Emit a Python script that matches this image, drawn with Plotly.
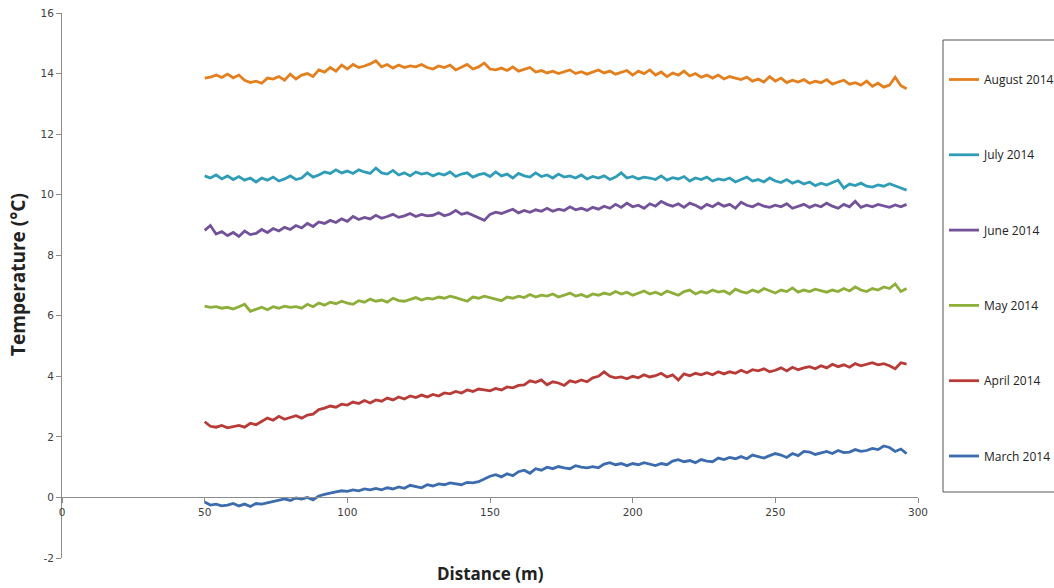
import plotly.graph_objects as go

# Distance along transect (m)
distance = list(range(50, 298, 2))

august_2014 = [
    13.85, 13.88, 13.95, 13.87, 13.98, 13.86, 13.95, 13.78, 13.70, 13.75,
    13.68, 13.85, 13.82, 13.90, 13.78, 13.98, 13.82, 13.95, 14.00, 13.90,
    14.12, 14.05, 14.20, 14.08, 14.28, 14.15, 14.30, 14.20, 14.25, 14.32,
    14.42, 14.22, 14.30, 14.18, 14.28, 14.20, 14.25, 14.22, 14.30, 14.20,
    14.15, 14.25, 14.20, 14.28, 14.12, 14.22, 14.30, 14.15, 14.22, 14.35,
    14.15, 14.12, 14.18, 14.10, 14.22, 14.08, 14.15, 14.20, 14.05, 14.10,
    14.02, 14.08, 14.00, 14.05, 14.12, 14.00, 14.06, 13.98, 14.05, 14.12,
    14.02, 14.08, 13.98, 14.05, 14.10, 13.95, 14.08, 14.00, 14.12, 13.95,
    14.05, 13.90, 14.02, 13.95, 14.08, 13.92, 14.00, 13.88, 13.95, 13.85,
    13.95, 13.82, 13.90, 13.85, 13.80, 13.88, 13.75, 13.82, 13.72, 13.90,
    13.75, 13.85, 13.70, 13.78, 13.72, 13.80, 13.68, 13.75, 13.70, 13.80,
    13.65, 13.72, 13.78, 13.65, 13.70, 13.62, 13.75, 13.58, 13.68, 13.55,
    13.62, 13.88, 13.60, 13.50,
]

july_2014 = [
    10.62, 10.55, 10.65, 10.52, 10.62, 10.50, 10.60, 10.48, 10.55, 10.42,
    10.55, 10.48, 10.58, 10.45, 10.52, 10.62, 10.50, 10.55, 10.72, 10.58,
    10.65, 10.75, 10.70, 10.82, 10.72, 10.78, 10.70, 10.82, 10.75, 10.70,
    10.88, 10.72, 10.68, 10.80, 10.65, 10.72, 10.62, 10.75, 10.68, 10.72,
    10.62, 10.70, 10.65, 10.75, 10.60, 10.68, 10.72, 10.58, 10.66, 10.70,
    10.60, 10.75, 10.62, 10.68, 10.55, 10.70, 10.62, 10.58, 10.72, 10.60,
    10.65, 10.55, 10.68, 10.58, 10.62, 10.55, 10.65, 10.52, 10.60, 10.55,
    10.62, 10.50, 10.58, 10.72, 10.55, 10.60, 10.52, 10.58, 10.55, 10.50,
    10.62, 10.48, 10.56, 10.52, 10.60, 10.45, 10.55, 10.50, 10.58, 10.45,
    10.52, 10.48, 10.55, 10.42, 10.50, 10.58, 10.45, 10.50, 10.42, 10.55,
    10.45, 10.40, 10.50, 10.38, 10.45, 10.35, 10.42, 10.30, 10.38, 10.32,
    10.40, 10.48, 10.22, 10.35, 10.30, 10.38, 10.28, 10.25, 10.32, 10.28,
    10.36, 10.30, 10.22, 10.15,
]

june_2014 = [
    8.82, 8.98, 8.70, 8.78, 8.65, 8.75, 8.62, 8.80, 8.68, 8.72,
    8.85, 8.75, 8.88, 8.80, 8.92, 8.85, 8.98, 8.90, 9.05, 8.95,
    9.10, 9.05, 9.15, 9.08, 9.20, 9.12, 9.28, 9.18, 9.25, 9.20,
    9.32, 9.22, 9.28, 9.35, 9.25, 9.30, 9.38, 9.28, 9.35, 9.30,
    9.32, 9.40, 9.30, 9.36, 9.48, 9.35, 9.40, 9.32, 9.25, 9.15,
    9.35, 9.42, 9.38, 9.45, 9.52, 9.40, 9.48, 9.42, 9.50, 9.45,
    9.55, 9.45, 9.52, 9.48, 9.60, 9.50, 9.55, 9.48, 9.58, 9.52,
    9.62, 9.55, 9.68, 9.58, 9.72, 9.60, 9.65, 9.55, 9.70, 9.62,
    9.78, 9.68, 9.62, 9.70, 9.58, 9.72, 9.65, 9.55, 9.68, 9.60,
    9.72, 9.62, 9.68, 9.55, 9.75, 9.65, 9.60, 9.70, 9.62, 9.58,
    9.65, 9.60, 9.70, 9.55, 9.62, 9.68, 9.58, 9.66, 9.60, 9.72,
    9.62, 9.55, 9.68, 9.60, 9.78, 9.58, 9.65, 9.60, 9.68, 9.62,
    9.58, 9.66, 9.60, 9.68,
]

may_2014 = [
    6.32, 6.28, 6.30, 6.25, 6.28, 6.22, 6.30, 6.38, 6.15, 6.22,
    6.28, 6.20, 6.30, 6.25, 6.32, 6.28, 6.30, 6.25, 6.38, 6.30,
    6.42, 6.35, 6.45, 6.40, 6.48, 6.42, 6.38, 6.50, 6.45, 6.55,
    6.48, 6.52, 6.45, 6.58, 6.50, 6.48, 6.55, 6.60, 6.52, 6.58,
    6.55, 6.62, 6.58, 6.65, 6.60, 6.55, 6.48, 6.62, 6.58, 6.65,
    6.60, 6.55, 6.50, 6.62, 6.58, 6.65, 6.60, 6.70, 6.62, 6.68,
    6.65, 6.72, 6.62, 6.68, 6.75, 6.65, 6.70, 6.62, 6.72, 6.68,
    6.75, 6.70, 6.80, 6.72, 6.78, 6.68, 6.75, 6.82, 6.72, 6.78,
    6.70, 6.82, 6.75, 6.68, 6.80, 6.85, 6.72, 6.80, 6.75, 6.85,
    6.78, 6.82, 6.72, 6.88, 6.80, 6.75, 6.85, 6.78, 6.90, 6.82,
    6.75, 6.85, 6.80, 6.92, 6.78, 6.85, 6.80, 6.88, 6.82, 6.78,
    6.85, 6.80, 6.90, 6.82, 6.95, 6.85, 6.80, 6.90, 6.85, 6.95,
    6.90, 7.05, 6.80, 6.90,
]

april_2014 = [
    2.50, 2.35, 2.32, 2.38, 2.30, 2.35, 2.38, 2.32, 2.45, 2.40,
    2.50, 2.62, 2.55, 2.68, 2.58, 2.65, 2.70, 2.62, 2.72, 2.75,
    2.90, 2.95, 3.02, 2.98, 3.08, 3.05, 3.15, 3.10, 3.20, 3.12,
    3.22, 3.18, 3.28, 3.22, 3.32, 3.25, 3.35, 3.30, 3.38, 3.32,
    3.40, 3.35, 3.45, 3.42, 3.50, 3.45, 3.55, 3.50, 3.58, 3.55,
    3.52, 3.60, 3.55, 3.65, 3.62, 3.70, 3.72, 3.85, 3.80, 3.88,
    3.72, 3.82, 3.78, 3.70, 3.85, 3.80, 3.88, 3.82, 3.95, 4.00,
    4.15, 4.00, 3.95, 3.98, 3.92, 4.00, 3.95, 4.05, 3.98, 4.02,
    4.10, 3.98, 4.05, 3.88, 4.08, 4.02, 4.10, 4.05, 4.12, 4.05,
    4.15, 4.08, 4.15, 4.10, 4.20, 4.12, 4.22, 4.18, 4.25, 4.15,
    4.20, 4.28, 4.18, 4.30, 4.22, 4.28, 4.32, 4.25, 4.35, 4.28,
    4.40, 4.32, 4.38, 4.30, 4.42, 4.35, 4.40, 4.45, 4.38, 4.42,
    4.35, 4.25, 4.45, 4.40,
]

march_2014 = [
    -0.15, -0.25, -0.22, -0.28, -0.25, -0.20, -0.28, -0.22, -0.30, -0.20,
    -0.22, -0.18, -0.15, -0.10, -0.05, -0.10, -0.02, -0.05, 0.00, -0.08,
    0.05, 0.10, 0.15, 0.18, 0.22, 0.20, 0.25, 0.22, 0.28, 0.25,
    0.30, 0.25, 0.32, 0.28, 0.35, 0.30, 0.40, 0.35, 0.32, 0.42,
    0.38, 0.45, 0.42, 0.48, 0.45, 0.42, 0.50, 0.48, 0.52, 0.60,
    0.70, 0.75, 0.68, 0.78, 0.72, 0.85, 0.90, 0.80, 0.95, 0.90,
    1.00, 0.95, 1.02, 0.98, 0.95, 1.05, 1.00, 0.98, 1.02, 0.98,
    1.10, 1.15, 1.08, 1.12, 1.05, 1.12, 1.08, 1.15, 1.10, 1.05,
    1.12, 1.08, 1.20, 1.25, 1.18, 1.22, 1.15, 1.25, 1.20, 1.18,
    1.30, 1.25, 1.32, 1.28, 1.35, 1.28, 1.40, 1.35, 1.30, 1.38,
    1.45, 1.40, 1.32, 1.45, 1.38, 1.52, 1.50, 1.42, 1.48, 1.52,
    1.45, 1.55, 1.48, 1.50, 1.58, 1.52, 1.55, 1.62, 1.58, 1.70,
    1.65, 1.52, 1.60, 1.45,
]

series_names = ["August 2014", "July 2014", "June 2014", "May 2014", "April 2014", "March 2014"]
series_values = [august_2014, july_2014, june_2014, may_2014, april_2014, march_2014]
series_colors = ["#E47F1E", "#2F9DB8", "#74529A", "#8EAE3A", "#B83B38", "#3C6CAE"]

x_ticks = [0, 50, 100, 150, 200, 250, 300]
y_ticks = [-2, 0, 2, 4, 6, 8, 10, 12, 14, 16]
y_tick_labels = ["-2", "0", "2", "4", "6", "8", "10", "12", "14", "16"]

fig = go.Figure()
for name, vals, col in zip(series_names, series_values, series_colors):
    fig.add_trace(go.Scatter(
        x=distance, y=vals, mode="lines", name=name, legendgroup=name,
        line=dict(color=col, width=2.8),
    ))

W, H = 1054, 588
L, R, T, B = 62, 136, 13, 30
pw, ph = W - L - R, H - T - B


def px_x(p):
    return (p - L) / pw


def px_y(p):
    return (H - B - p) / ph


tick_font = dict(family="DejaVu Sans", size=10.5, color="#404040")

fig.update_layout(
    width=W, height=H,
    margin=dict(l=L, r=R, t=T, b=B, autoexpand=False),
    paper_bgcolor="white", plot_bgcolor="white",
    showlegend=True,
    legend=dict(
        xref="container", yref="container",
        x=944 / W, y=(H - 65) / H, xanchor="left", yanchor="top",
        font=dict(family="Open Sans", size=12, color="#222222"),
        tracegroupgap=56.3, bgcolor="rgba(0,0,0,0)", borderwidth=0,
        itemwidth=30, maxheight=560,
    ),
    xaxis=dict(
        range=[0, 300], tickvals=x_ticks, showgrid=False, zeroline=False,
        showline=True, linecolor="#8c8c8c", linewidth=1,
        ticks="outside", ticklen=5, tickcolor="#8c8c8c",
        anchor="free", position=2 / 18, tickfont=tick_font, automargin=False,
    ),
    yaxis=dict(
        range=[-2, 16], tickvals=y_ticks, ticktext=y_tick_labels,
        showgrid=False, zeroline=False,
        showline=True, linecolor="#8c8c8c", linewidth=1,
        ticks="outside", ticklen=5, tickcolor="#8c8c8c", tickfont=tick_font,
        automargin=False,
    ),
    shapes=[dict(
        type="rect", xref="paper", yref="paper",
        x0=px_x(943), x1=px_x(1070), y0=px_y(492), y1=px_y(40),
        line=dict(color="#555555", width=1), fillcolor="rgba(0,0,0,0)",
    )],
    annotations=[
        dict(text="<b>Temperature (°C)</b>", xref="paper", yref="paper",
             x=px_x(18), y=px_y(275), textangle=-90, showarrow=False,
             font=dict(family="Open Sans", size=19, color="#222222"),
             xanchor="center", yanchor="middle"),
        dict(text="<b>Distance (m)</b>", xref="paper", yref="paper",
             x=px_x(490), y=px_y(573), showarrow=False,
             font=dict(family="Open Sans", size=17, color="#222222"),
             xanchor="center", yanchor="middle"),
    ],
)

fig.write_html(
    "out.html",
    config={"displayModeBar": False},
    post_script="document.body.style.margin='0';",
)
